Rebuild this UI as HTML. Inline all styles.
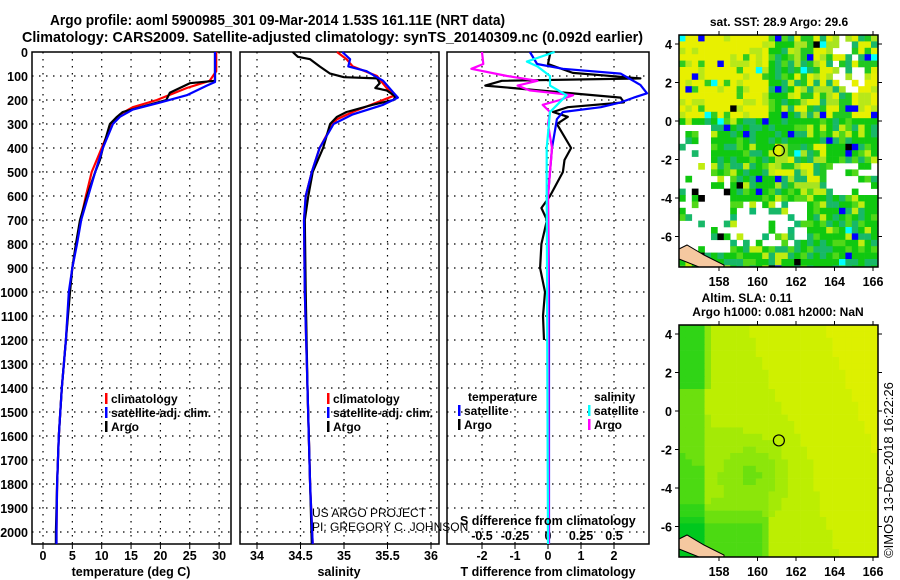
<!DOCTYPE html>
<html><head><meta charset="utf-8"><style>
html,body{margin:0;padding:0;background:#fff;}
svg{display:block;font-family:"Liberation Sans",sans-serif;}
.b{font-weight:bold;}
</style></head><body>
<svg id="fig" width="900" height="580" viewBox="0 0 900 580" xmlns="http://www.w3.org/2000/svg">
<text x="50" y="25" textLength="455" lengthAdjust="spacingAndGlyphs" class="b" font-size="15">Argo profile: aoml 5900985_301 09-Mar-2014 1.53S 161.11E (NRT data)</text>
<text x="22" y="42" textLength="621" lengthAdjust="spacingAndGlyphs" class="b" font-size="15">Climatology: CARS2009. Satellite-adjusted climatology: synTS_20140309.nc (0.092d earlier)</text>
<g id="maps"></g>
<g id="plots"></g>
<text x="893" y="470" transform="rotate(-90 893 470)" text-anchor="middle" font-size="13">©IMOS 13-Dec-2018 16:22:26</text>
</svg>
<script>
// ---------- data ----------
const depthTicks=[0,100,200,300,400,500,600,700,800,900,1000,1100,1200,1300,1400,1500,1600,1700,1800,1900,2000];
const tTicks=[0,5,10,15,20,25,30];
const sTicks=[34,34.5,35,35.5,36];
const dTTicks=[-2,-1,0,1,2];
const dSTicks=[-0.5,-0.25,0,0.25,0.5];
const tempArgoDepth=[0,120,130,170,200,250,270,300,400,450,500,600,700,800,900,1000,1200,1400,1600,1800,2000,2050];
const tempArgo=[29.3,29.3,25,21.6,21,13.6,12.6,11.4,10.2,9.7,8.9,7.5,6.3,5.6,5.0,4.6,3.9,3.2,2.7,2.4,2.2,2.2];
const tempClimDepth=[0,80,120,150,200,230,260,300,400,500,600,700,800,900,1000,1200,1400,1600,1800,2000,2050];
const tempClim=[29.5,29.5,28.4,24.5,19.4,15.3,13.1,11.7,10.0,8.3,7.3,6.4,5.7,5.0,4.5,3.9,3.2,2.7,2.4,2.3,2.3];
const tempSatDepth=[0,125,140,180,210,240,270,300,400,500,600,700,800,900,1000,1200,1400,1600,1800,2000,2050];
const tempSat=[29.3,29.3,27.9,24.5,20,15.3,13.1,11.9,10.2,8.9,7.7,6.5,5.8,5.0,4.4,3.9,3.2,2.7,2.4,2.3,2.3];
const salArgoDepth=[0,20,30,60,90,105,110,130,150,160,185,200,220,250,270,300,400,500,600,700,1000,1400,1800,2050];
const salArgo=[34.41,34.47,34.61,34.72,34.84,35.0,35.38,35.41,35.36,35.49,35.59,35.57,35.33,35.03,34.92,34.84,34.76,34.64,34.59,34.55,34.56,34.58,34.61,34.63];
const salClimDepth=[0,30,60,100,150,180,210,250,280,300,400,500,600,700,1000,1400,1800,2050];
const salClim=[34.92,35.03,35.1,35.38,35.49,35.59,35.38,35.1,34.92,34.87,34.72,34.63,34.56,34.54,34.55,34.58,34.61,34.64];
const salSatDepth=[0,30,60,80,120,170,190,220,260,300,400,500,600,700,1000,1400,1800,2050];
const salSat=[34.98,35.07,35.05,35.26,35.45,35.57,35.62,35.45,35.1,34.88,34.72,34.63,34.56,34.54,34.55,34.58,34.61,34.64];
const dTArgoDepth=[0,10,50,87,110,120,140,190,210,230,250,270,300,400,450,500,600,650,700,800,900,1000,1100,1200];
const dTArgo=[-0.06,0.06,0,0.75,2.8,-1.4,-1.9,2.2,2.3,0.6,0.15,0.6,0.27,0.7,0.5,0.45,0.06,-0.2,-0.03,-0.2,-0.24,-0.09,-0.15,-0.12];
const dTSatDepth=[0,50,70,90,137,172,190,210,230,250,280,400,600,1000,2050];
const dTSat=[-0.55,-0.33,0.45,2.2,2.8,3.0,2.6,2.2,1.6,0.45,0.27,0.12,0.0,0.03,0.03];
const dSArgoDepth=[0,50,70,100,120,140,160,180,200,220,250,300,400,500,600,2050];
const dSArgo=[-0.5,-0.49,-0.58,-0.31,-0.08,-0.23,-0.14,0.19,0.09,-0.04,0.015,0,0.03,0.015,0,0.005];
const dSSatDepth=[0,40,60,100,140,180,220,250,400,600,2050];
const dSSat=[0.05,-0.16,-0.08,0.015,0.015,0.14,0.07,0.015,-0.01,-0.01,0];
const mapLonTicks=[158,160,162,164,166];
const mapLatTicks=[4,2,0,-2,-4,-6];
const floatLon=161.11, floatLat=-1.53;

// ---------- helpers ----------
const NS='http://www.w3.org/2000/svg';
function mk(tag,attrs,parent,txt){const e=document.createElementNS(NS,tag);for(const k in attrs)e.setAttribute(k,attrs[k]);if(txt!==undefined)e.textContent=txt;parent.appendChild(e);return e;}
const plots=document.getElementById('plots');
const Y0=52,Y1=544;
const yD=d=>Y0+(d)*0.24;
function panel(name,x0,x1,xs,ticks,fmt){
  const g=mk('g',{},plots);
  
  
  depthTicks.forEach(d=>{if(d>0)mk('line',{x1:x0,x2:x1,y1:yD(d),y2:yD(d),stroke:'#000','stroke-width':1.2,'stroke-dasharray':'1.5 5.5'},g);});
  ticks.forEach(v=>{const x=xs(v);mk('line',{x1:x,x2:x,y1:Y0,y2:Y1,stroke:'#000','stroke-width':1.2,'stroke-dasharray':'1.5 5.5'},g);
    mk('line',{x1:x,x2:x,y1:Y1,y2:Y1+5,stroke:'#000'},g);
    if(fmt){const t=mk('text',{x:x,y:560,'text-anchor':'middle','font-size':12.5,class:'b'},g,fmt(v));
      
      }});
  mk('rect',{x:x0,y:Y0,width:x1-x0,height:Y1-Y0,fill:'none',stroke:'#000','stroke-width':1.5},g);
  return g;
}
function line(g,xs,depths,vals,col,name){
  const pts=depths.map((d,i)=>xs(vals[i]).toFixed(1)+','+yD(d).toFixed(1)).join(' ');
  const p=mk('polyline',{points:pts,fill:'none',stroke:col,'stroke-width':2.2,'stroke-linejoin':'round'},g);
  
  
}
function legend(g,x,y,col,label){
  mk('rect',{x:x,y:y-10,width:2.5,height:11,fill:col},g);
  const t=mk('text',{x:x+6,y:y,'font-size':12,class:'b'},g,label);
  
  
}

depthTicks.forEach(d=>{const t=mk('text',{x:28,y:yD(d)+5,'text-anchor':'end','font-size':12.5,class:'b'},plots,String(d));
  
  });

const xT=v=>43+v*5.87;
const g1=panel('temperature-panel',32,231,xT,tTicks,v=>String(v));
line(g1,xT,tempClimDepth,tempClim,'#f00','temp-climatology-line');
line(g1,xT,tempArgoDepth,tempArgo,'#000','temp-argo-line');
line(g1,xT,tempSatDepth,tempSat,'#00f','temp-satellite-line');
legend(g1,105,403,'#f00','climatology');legend(g1,105,417,'#00f','satellite-adj. clim.');legend(g1,105,431,'#000','Argo');
const a1=mk('text',{x:131,y:576,'text-anchor':'middle','font-size':12.5,class:'b'},plots,'temperature (deg C)');


const xS=v=>257+(v-34)*87;
const g2=panel('salinity-panel',240,439,xS,sTicks,v=>String(v));
line(g2,xS,salClimDepth,salClim,'#f00','sal-climatology-line');
line(g2,xS,salArgoDepth,salArgo,'#000','sal-argo-line');
line(g2,xS,salSatDepth,salSat,'#00f','sal-satellite-line');
legend(g2,327,403,'#f00','climatology');legend(g2,327,417,'#00f','satellite-adj. clim.');legend(g2,327,431,'#000','Argo');
const a2=mk('text',{x:339,y:576,'text-anchor':'middle','font-size':12.5,class:'b'},plots,'salinity');

const c1=mk('text',{x:312,y:517,'font-size':12},plots,'US ARGO PROJECT');

const c2=mk('text',{x:312,y:531,'font-size':12},plots,'PI: GREGORY C. JOHNSON');


const xdT=v=>548+v*33;
const xdS=v=>548+v*132;
const g3=panel('difference-panel',447,649,xdT,dTTicks,v=>String(v));
dSTicks.forEach(v=>{const t=mk('text',{x:xdS(v),y:540,'text-anchor':'middle','font-size':12.5,class:'b'},g3,String(v));
  });
line(g3,xdT,dTArgoDepth,dTArgo,'#000','temp-diff-argo-line');
line(g3,xdT,dTSatDepth,dTSat,'#00f','temp-diff-satellite-line');
line(g3,xdS,dSArgoDepth,dSArgo,'#f0f','sal-diff-argo-line');
line(g3,xdS,dSSatDepth,dSSat,'#0ff','sal-diff-satellite-line');
const lt=mk('text',{x:468,y:401,'font-size':12,class:'b'},g3,'temperature');
const ls=mk('text',{x:594,y:401,'font-size':12,class:'b'},g3,'salinity');
legend(g3,458,415,'#00f','satellite');legend(g3,458,429,'#000','Argo');
legend(g3,588,415,'#0ff','satellite');legend(g3,588,429,'#f0f','Argo');
const sd=mk('text',{x:460,y:525,'font-size':12.5,class:'b'},plots,'S difference from climatology');

const td=mk('text',{x:548,y:576,'text-anchor':'middle','font-size':12.5,class:'b'},plots,'T difference from climatology');


// ---------- maps ----------
const maps=document.getElementById('maps');
const MX0=679,MX1=878;
const lonX=l=>719+(l-158)*19.25;
function hash(i,j,s){let h=(i*374761393+j*668265263+s*1442695041)|0;h=(h^(h>>>13))*1274126177|0;return ((h^(h>>>16))>>>0)/4294967296;}
function drawMap(name,top,bot,lat0y,colorFn){
  const g=mk('g',{},maps);
  
  
  const latY=l=>lat0y-l*19.25;
  const cs=6.4;
  for(let j=0;top+j*cs<bot;j++)for(let i=0;MX0+i*cs<MX1;i++){
    const x=MX0+i*cs,y=top+j*cs;
    const lon=155.92+(x+cs/2-MX0)/19.25, lat=(lat0y-(y+cs/2))/19.25;
    const c=colorFn(lon,lat,i,j);
    if(c)mk('rect',{x:x,y:y,width:Math.min(cs,MX1-x)+0.3,height:Math.min(cs,bot-y)+0.3,fill:c},g);
  }
  mk('polygon',{points:`${MX0},${bot-18} ${MX0+8},${bot-22} ${MX0+25},${bot-12} ${MX0+45},${bot-2} ${MX0+45},${bot} ${MX0+20},${bot} ${MX0},${bot-8}`,fill:'#f5c8a0',stroke:'#000','stroke-width':1},g);
  mk('rect',{x:MX0,y:top,width:MX1-MX0,height:bot-top,fill:'none',stroke:'#000','stroke-width':1.5},g);
  mapLonTicks.forEach(l=>{const x=lonX(l);mk('line',{x1:x,x2:x,y1:bot,y2:bot+4,stroke:'#000'},g);mk('line',{x1:x,x2:x,y1:top,y2:top-4,stroke:'#000'},g);
    const t=mk('text',{x:x,y:bot+19,'text-anchor':'middle','font-size':12.5,class:'b'},g,String(l));
    });
  mapLatTicks.forEach(l=>{const y=latY(l);mk('line',{x1:MX0-4,x2:MX0,y1:y,y2:y,stroke:'#000'},g);mk('line',{x1:MX1,x2:MX1+4,y1:y,y2:y,stroke:'#000'},g);
    const t=mk('text',{x:672,y:y+5,'text-anchor':'end','font-size':12.5,class:'b'},g,String(l));
    });
  const cc=mk('circle',{cx:lonX(floatLon),cy:latY(floatLat),r:5.5,fill:'none',stroke:'#000','stroke-width':1.2},g);
  
  return g;
}
drawMap('sst-map',35,267,121,(lon,lat,i,j)=>{
  const r=hash(i,j,1);
  if(lat<-3&&lon<158.6&&lat>-6.8&&r<0.85)return (r<0.06?'#000':null);
  if(lat<-4.3&&lat>-6.6&&lon>158.5&&lon<162.5&&r<0.75)return (r<0.1?'#10b870':null);
  if(lat>1.5&&lon>163.8&&lon<165.5&&r<0.5)return null;
  if(lat<-0.3&&lat>-3&&lon<157.5&&r<0.8)return null;
  if(lat<-2.3&&lat>-4&&lon>163.7&&r<0.6)return null;
  if(r<0.012)return '#000';
  if(r<0.04)return '#00f';
  if(r<0.06)return '#0ff';
  const yellow=(lon<160.5&&lat>0.3)||(lon>164.8&&lat>0&&lat<2.5);
  const lite=(lon>161&&lon<163.5&&lat<-1.3&&lat>-3.5)||(lon>162&&lat>0);
  const r2=hash(i,j,2);
  if(yellow)return r2<0.78?'#e8f000':(r2<0.92?'#b8e818':'#30cc20');
  if(lite)return r2<0.3?'#e0f000':(r2<0.6?'#a8e420':(r2<0.85?'#20c820':'#18b868'));
  return r2<0.5?'#10c810':(r2<0.75?'#18b868':(r2<0.9?'#50d818':'#c0ec10'));
});
drawMap('sla-map',325,557,411,(lon,lat)=>{
  let g=0.72+0.025*(lon-160)+0.01*lat;
  let d1=(lon-159.8)**2+(lat+3.3)**2; g-=0.25*Math.exp(-d1/3);
  if(lon<157.3)g-=0.25;
  if(lat<-4.5&&lon<160.5)g-=0.3*Math.min(1,(-4.5-lat)/1.5);
  if(lat>1&&lon<157.5)g-=0.2;
  g=Math.max(0,Math.min(1,g));
  const q=Math.round(g*10)/10;
  const stops=[[0,200,30],[60,215,20],[140,230,10],[200,240,0],[235,240,0]];
  const p=q*4,k=Math.min(3,Math.floor(p)),f=p-k;
  const c=stops[k].map((v,n)=>Math.round(v+(stops[k+1][n]-v)*f));
  return `rgb(${c[0]},${c[1]},${c[2]})`;
});
const mt1=mk('text',{x:779,y:26,'text-anchor':'middle','font-size':12,class:'b'},maps,'sat. SST: 28.9 Argo: 29.6');

const mt2=mk('text',{x:747,y:302,'text-anchor':'middle','font-size':12,class:'b'},maps,'Altim. SLA: 0.11');

const mt3=mk('text',{x:778,y:316,'text-anchor':'middle','font-size':12,class:'b'},maps,'Argo h1000: 0.081 h2000: NaN');

</script>
</body></html>
